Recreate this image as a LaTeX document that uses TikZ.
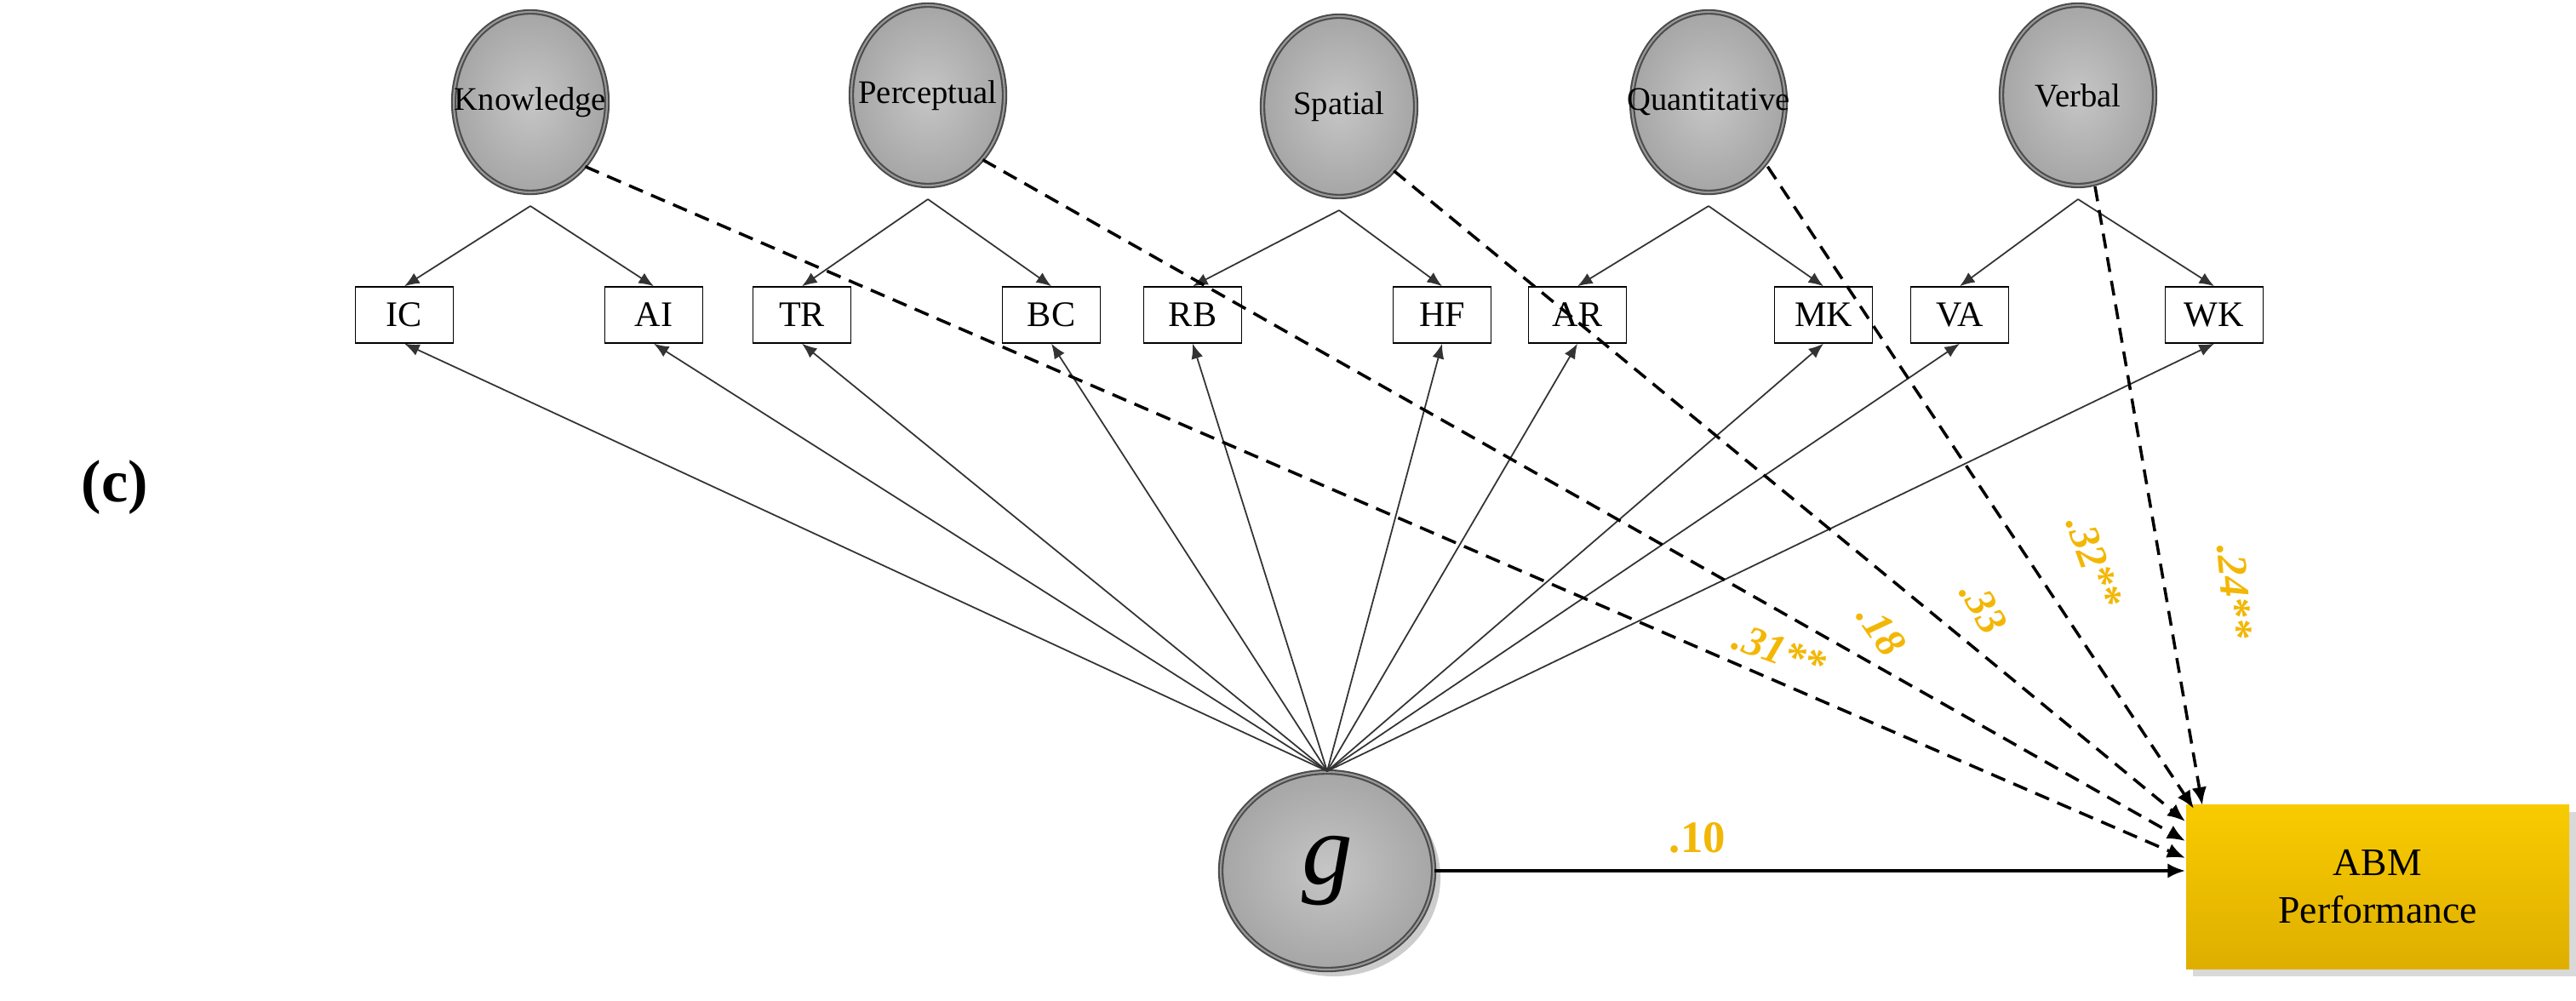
\documentclass[tikz,border=0pt]{standalone}
\usepackage{fontspec}
\setmainfont{Liberation Serif}
\usetikzlibrary{shapes.geometric,arrows.meta,shadows}
\definecolor{coef}{HTML}{F2B705}
\definecolor{abm}{HTML}{F7C200}
\begin{document}
\begin{tikzpicture}[
  factor/.style={ellipse,minimum width=1.8cm,minimum height=2.12cm,inner sep=0pt,
    draw=gray!60!black,double=gray!80,double distance=0.6pt,line width=0.6pt,
    inner color=gray!45,outer color=gray!70,
    label={[font=\fontsize{11}{13}\selectfont]center:#1}},
  ind/.style={draw,rectangle,minimum width=1.15cm,minimum height=0.66cm,inner sep=1pt,
    font=\fontsize{12}{14}\selectfont},
  load/.style={-{Latex[length=5pt,width=4pt]},gray!40!black,line width=0.5pt},
  spec/.style={-{Latex[length=6pt,width=5pt]},dashed,line width=1pt,dash pattern=on 5pt off 3pt},
  coeflab/.style={text=coef,font=\fontsize{14}{16}\selectfont\bfseries\itshape}
]
\useasboundingbox (0,0) rectangle (30.26,-11.75);
\node[font=\fontsize{20}{24}\selectfont\bfseries] (c) at (1.35,-5.73) {(c)};
% first-order factors
\node[factor=Knowledge] (kn) at (6.23,-1.20) {};
\node[factor=Perceptual] (pe) at (10.90,-1.12) {};
\node[factor=Spatial] (sp) at (15.73,-1.25) {};
\node[factor=Quantitative] (qu) at (20.07,-1.20) {};
\node[factor=Verbal] (ve) at (24.41,-1.12) {};
\foreach \f in {kn,pe,sp,qu,ve}{\coordinate (\f-b) at ([yshift=-0.15cm]\f.south);}
% indicators
\node[ind] (IC) at (4.75,-3.70) {IC};
\node[ind] (AI) at (7.68,-3.70) {AI};
\node[ind] (TR) at (9.42,-3.70) {TR};
\node[ind] (BC) at (12.35,-3.70) {BC};
\node[ind] (RB) at (14.01,-3.70) {RB};
\node[ind] (HF) at (16.94,-3.70) {HF};
\node[ind] (AR) at (18.53,-3.70) {AR};
\node[ind] (MK) at (21.42,-3.70) {MK};
\node[ind] (VA) at (23.02,-3.70) {VA};
\node[ind] (WK) at (26.01,-3.70) {WK};
% general factor and outcome
\node[ellipse,minimum width=2.5cm,minimum height=2.32cm,inner sep=0pt,
  draw=gray!60!black,double=gray!80,double distance=0.6pt,line width=0.6pt,
  inner color=gray!45,outer color=gray!70,font=\fontsize{34}{38}\selectfont\itshape,
  drop shadow={opacity=0.4}] (g) at (15.59,-10.23) {g};
\node[rectangle,minimum width=4.5cm,minimum height=1.93cm,align=center,
  top color=abm!85!yellow,bottom color=abm!90!black,drop shadow={opacity=0.3},
  font=\fontsize{13}{16}\selectfont] (abm) at (27.93,-10.42) {ABM\\Performance};
% loadings
\draw[load] (kn-b) -- (IC.north); \draw[load] (kn-b) -- (AI.north);
\draw[load] (pe-b) -- (TR.north); \draw[load] (pe-b) -- (BC.north);
\draw[load] (sp-b) -- (RB.north); \draw[load] (sp-b) -- (HF.north);
\draw[load] (qu-b) -- (AR.north); \draw[load] (qu-b) -- (MK.north);
\draw[load] (ve-b) -- (VA.north); \draw[load] (ve-b) -- (WK.north);
\foreach \i in {IC,AI,TR,BC,RB,HF,AR,MK,VA,WK}{\draw[load] (g.north) -- (\i.south);}
% specific effects
\coordinate (t1) at (25.67,-10.08);
\coordinate (t2) at (25.67,-9.88);
\coordinate (t3) at (25.67,-9.65);
\coordinate (t4) at (25.77,-9.50);
\coordinate (t5) at (25.87,-9.46);
\draw[spec] (kn.south east) -- (t1);
\draw[spec] (pe.south east) -- (t2);
\draw[spec] (sp.south east) -- (t3);
\draw[spec] ([xshift=0.05cm]qu.south east) -- (t4);
\draw[spec] ([xshift=0.2cm]ve.south) -- (t5);
\draw[-{Latex[length=6pt,width=5pt]},line width=1.2pt] (g.east) -- (g.east -| abm.west)
  node[pos=0.35,above=2pt,text=coef,font=\fontsize{15}{17}\selectfont\bfseries] (l10) {.10};
\node[coeflab,rotate=-20] (l31) at (20.90,-7.65) {.31**};
\node[coeflab,rotate=-55] (l18) at (22.10,-7.40) {.18};
\node[coeflab,rotate=-60] (l33) at (23.30,-7.14) {.33};
\node[coeflab,rotate=-70] (l32) at (24.60,-6.60) {.32**};
\node[coeflab,rotate=-85] (l24) at (26.25,-6.95) {.24**};
\end{tikzpicture}
\end{document}
